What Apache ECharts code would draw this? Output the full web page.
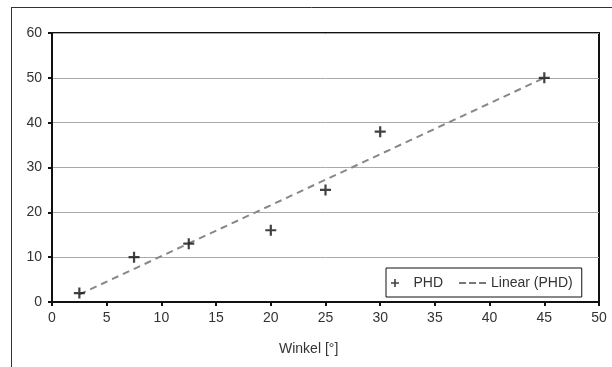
<!DOCTYPE html>
<html>
<head>
<meta charset="utf-8">
<script src="https://cdn.jsdelivr.net/npm/echarts@6/dist/echarts.min.js"></script>
<style>
  html, body { margin: 0; padding: 0; background: #fff; }
  #main { width: 612px; height: 367px; }
</style>
</head>
<body>
<div id="main"></div>
<script>
// measured points (Winkel vs PHD)
const winkel = [2.5, 7.5, 12.5, 20, 25, 30, 45];
const phd = [2, 10, 13, 16, 25, 38, 50];
// linear trend line endpoints
const trendX = [2.5, 45];
const trendY = [1.7, 50];

const plus = "path://M4,0h2v4h4v2h-4v4h-2v-4h-4v-2h4z";
const dashes = "path://M0,0h7v2h-7z M10,0h7v2h-7z M20,0h7v2h-7z";
const font = "Liberation Sans, Arial, sans-serif";

const chart = echarts.init(document.getElementById("main"));
chart.setOption({
  animation: false,
  backgroundColor: "#fff",
  textStyle: { fontFamily: font },
  grid: { left: 52, top: 33, right: 13, bottom: 65, show: true, borderColor: "#111", borderWidth: 2 },
  xAxis: {
    type: "value",
    min: 0, max: 50, interval: 5,
    axisLine: { lineStyle: { color: "#111", width: 2 } },
    axisTick: { show: true, length: 4, lineStyle: { color: "#111", width: 2 } },
    axisLabel: { color: "#333", fontSize: 14, margin: 9 },
    splitLine: { show: false },
  },
  yAxis: {
    type: "value",
    min: 0, max: 60, interval: 10,
    axisLine: { show: true, lineStyle: { color: "#111", width: 2 } },
    axisTick: { show: true, length: 4, lineStyle: { color: "#111", width: 2 } },
    axisLabel: { color: "#333", fontSize: 14, margin: 10 },
    splitLine: { lineStyle: { color: "#aaa", width: 1 } },
  },
  legend: {
    left: 386, top: 268,
    padding: [8, 9, 7, 5],
    borderColor: "#111", borderWidth: 1,
    backgroundColor: "#fff",
    itemGap: 16,
    itemWidth: 27, itemHeight: 8,
    textStyle: { color: "#333", fontSize: 14 },
    data: [
      { name: "PHD", icon: plus, itemStyle: { color: "#111" } },
      { name: "Linear (PHD)", icon: dashes, itemStyle: { color: "#777" } },
    ],
  },
  graphic: [
    { type: "line", shape: { x1: 11.5, y1: 7, x2: 11.5, y2: 367 }, style: { stroke: "#333", lineWidth: 1 } },
    { type: "line", shape: { x1: 11, y1: 7.5, x2: 612, y2: 7.5 }, style: { stroke: "#333", lineWidth: 1 } },
    { type: "text", left: 279, top: 342, style: { text: "Winkel [°]", fill: "#333", fontSize: 14, fontFamily: font } },
  ],
  series: [
    {
      name: "Linear (PHD)",
      type: "line",
      data: trendX.map((x, i) => [x, trendY[i]]),
      symbol: "none",
      lineStyle: { color: "#888", width: 2, type: [7, 5] },
      itemStyle: { color: "#888" },
      z: 2,
    },
    {
      name: "PHD",
      type: "scatter",
      data: winkel.map((x, i) => [x, phd[i]]),
      symbol: plus,
      symbolSize: 11,
      itemStyle: { color: "#111" },
      z: 3,
    },
  ],
});
</script>
</body>
</html>
